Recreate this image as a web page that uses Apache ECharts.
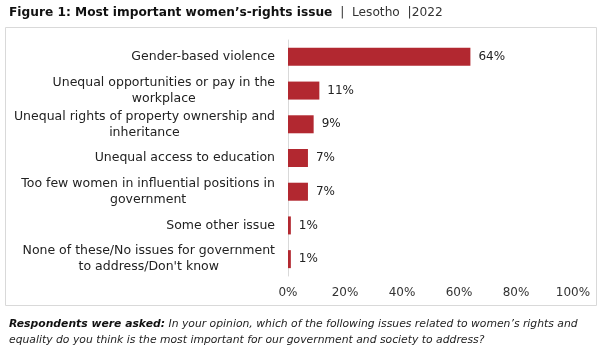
<!DOCTYPE html>
<html>
<head>
<meta charset="utf-8">
<script src="https://cdn.jsdelivr.net/npm/echarts@6/dist/echarts.min.js"></script>
<style>
  html, body { margin: 0; padding: 0; background: #fff; }
  #chart { width: 602px; height: 350px; }
</style>
</head>
<body>
<div id="chart"></div>
<script>
var categories = [
  'Gender-based violence',
  'Unequal opportunities or pay in the\nworkplace',
  'Unequal rights of property ownership and\ninheritance',
  'Unequal access to education',
  'Too few women in influential positions in\ngovernment',
  'Some other issue',
  'None of these/No issues for government\nto address/Don\'t know'
]
var values = [64, 11, 9, 7, 7, 1, 1]
var ticks = [0, 20, 40, 60, 80, 100]

var font = 'DejaVu Sans'
var myChart = echarts.init(document.getElementById('chart'))

myChart.setOption({
  animation: false,
  textStyle: { fontFamily: font },
  title: [
    {
      left: 4,
      top: 2,
      text: '{b|Figure 1: Most important women\u2019s-rights issue}{n|  |  Lesotho  |2022}',
      textStyle: {
        rich: {
          b: { fontFamily: font, fontSize: 12.2, fontWeight: 'bold', color: '#111' },
          n: { fontFamily: font, fontSize: 12.2, fontWeight: 'normal', color: '#333' }
        }
      }
    },
    {
      left: 4,
      top: 311,
      text: '{b|Respondents were asked:}{i| In your opinion, which of the following issues related to women\u2019s rights and}\n{i|equality do you think is the most important for our government and society to address?}',
      textStyle: {
        rich: {
          b: { fontFamily: font, fontSize: 10.8, fontWeight: 'bold', fontStyle: 'italic', color: '#111', lineHeight: 16 },
          i: { fontFamily: font, fontSize: 10.8, fontWeight: 'normal', fontStyle: 'italic', color: '#222', lineHeight: 16 }
        }
      }
    }
  ],
  graphic: [
    {
      type: 'rect',
      shape: { x: 5.5, y: 27.5, width: 591, height: 278 },
      style: { fill: 'none', stroke: '#d9d9d9', lineWidth: 1 },
      silent: true
    }
  ],
  grid: { left: 288, right: 29, top: 40, bottom: 74 },
  xAxis: {
    type: 'value',
    min: 0,
    max: 100,
    interval: 20,
    axisLine: { show: false },
    axisTick: { show: false },
    splitLine: { show: false },
    axisLabel: {
      color: '#333',
      fontSize: 12,
      margin: 11,
      formatter: function (v) { return ticks.indexOf(v) >= 0 ? v + '%' : '' }
    }
  },
  yAxis: {
    type: 'category',
    inverse: true,
    data: categories,
    axisLine: { show: true, lineStyle: { color: '#d9d9d9' } },
    axisTick: { show: false },
    axisLabel: {
      color: '#222',
      fontSize: 12.5,
      lineHeight: 16,
      margin: 13,
      align: 'right',
      formatter: function (v) {
        return v.split('\n').map(function (s) { return '{c|' + s + '}' }).join('\n')
      },
      rich: {
        c: { align: 'center', fontSize: 12.5, lineHeight: 16, color: '#222', fontFamily: font }
      }
    }
  },
  series: [
    {
      type: 'bar',
      data: values,
      barWidth: 18,
      itemStyle: { color: '#b22830' },
      label: {
        show: true,
        position: 'right',
        distance: 8,
        color: '#222',
        fontSize: 12,
        formatter: '{c}%'
      }
    }
  ]
})
</script>
</body>
</html>
